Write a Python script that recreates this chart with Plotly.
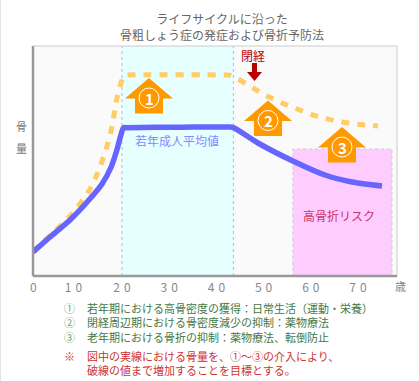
import plotly.graph_objects as go

W, H = 419, 381
L, R, T, B = 33, 397, 46, 276
FONT = "Noto Sans CJK JP"

# Data: age and bone mass (0-100 scale)
solid_age = [1.15, 4.75, 8.98, 12.8, 15.76, 17.7, 18.94, 19.79, 20.3, 21.0, 32.7, 42.6, 43.5, 48.8, 56.65, 63.0, 68.73, 75.08]
solid_mass = [10.43, 16.96, 24.35, 32.6, 40.0, 47.4, 55.0, 61.5, 64.4, 64.5, 64.7, 64.8, 64.6, 57.83, 49.57, 43.91, 40.87, 39.13]
dash_age = [1.15, 3.69, 6.44, 8.98, 11.1, 13.0, 14.49, 15.76, 16.82, 17.67, 18.31, 18.94, 19.79, 20.42, 21.2, 41.8, 43.0,
            44.58, 47.75, 50.72, 53.9, 57.08, 60.04, 63.22, 66.61, 70.0, 74.24]
dash_mass = [10.43, 15.65, 20.87, 26.0, 31.4, 37.0, 43.2, 49.8, 56.5, 63.0, 70.0, 77.39, 84.0, 87.2, 87.39, 87.39, 87.3,
             85.65, 81.74, 78.26, 75.22, 72.61, 70.3, 68.4, 66.96, 66.0, 65.22]
x_ticks = [1.2, 9.7, 20, 30, 40, 50, 60, 70]
x_labels = ["0", "1\u20040", "2\u20040", "3\u20040", "4\u20040", "5\u20040", "6\u20040", "7\u20040"]
young_span = [20, 43.6]
risk_span = [56.2, 77.2]
risk_top = 55.2
title_lines = ["ライフサイクルに沿った", "骨粗しょう症の発症および骨折予防法"]
green_marks = ["①", "②", "③"]
green_notes = ["若年期における高骨密度の獲得：日常生活（運動・栄養）",
               "閉経周辺期における骨密度減少の抑制：薬物療法",
               "老年期における骨折の抑制：薬物療法、転倒防止"]
red_notes = ["図中の実線における骨量を、①～③の介入により、",
             "破線の値まで増加することを目標とする。"]
arrows = [(149, 78, "1"), (268, 100.5, "2"), (342, 127, "3")]

X0, X1 = 20 - (122 - L) / 4.72, 20 + (R - 122) / 4.72
def fx(p): return (p - L) / (R - L)
def fy(p): return (B - p) / (B - T)

fig = go.Figure()
fig.add_trace(go.Scatter(x=dash_age, y=dash_mass, mode="lines", showlegend=False,
                         line=dict(color="#FFCC66", width=5, dash="8px,8px", shape="spline", smoothing=0.7)))
fig.add_trace(go.Scatter(x=solid_age, y=solid_mass, mode="lines", showlegend=False,
                         line=dict(color="#6666FF", width=5.5, shape="spline", smoothing=0.7)))

shapes = [
    dict(type="rect", xref="x", yref="paper", x0=young_span[0], x1=young_span[1], y0=0, y1=1,
         fillcolor="#E6FFFF", line_width=0, layer="below"),
    dict(type="rect", xref="x", yref="y", x0=risk_span[0], x1=risk_span[1], y0=0, y1=risk_top,
         fillcolor="#FFCCFF", line=dict(color="#CCCCCC", width=1, dash="3px,3px"), layer="below"),
]
for v in young_span:
    shapes.append(dict(type="line", xref="x", yref="paper", x0=v, x1=v, y0=0, y1=1, layer="below",
                       line=dict(color="#BBBBBB", width=1, dash="3px,3px")))
# frame
shapes += [
    dict(type="line", xref="paper", yref="paper", x0=0, x1=1, y0=1, y1=1, line=dict(color="#CCCCCC", width=1)),
    dict(type="line", xref="paper", yref="paper", x0=1, x1=1, y0=0, y1=1, line=dict(color="#CCCCCC", width=1)),
    dict(type="line", xref="paper", yref="paper", x0=0, x1=0, y0=0, y1=1, line=dict(color="#999999", width=2.5)),
    dict(type="line", xref="paper", yref="paper", x0=0, x1=1, y0=0, y1=0, line=dict(color="#999999", width=2.5)),
    dict(type="line", xref="paper", yref="paper", x0=fx(0.5), x1=fx(0.5), y0=fy(H), y1=fy(0),
         line=dict(color="#E4E4E4", width=1)),
]

def poly(pts, color):
    d = "M" + " L".join(f"{fx(a):.4f},{fy(b):.4f}" for a, b in pts) + " Z"
    return dict(type="path", xref="paper", yref="paper", path=d, fillcolor=color, line_width=0)

annotations = []
def text(x, y, s, size=11, color="#666666", anchor="center", align="center"):
    annotations.append(dict(xref="paper", yref="paper", x=fx(x), y=fy(y), text=s, showarrow=False,
                            xanchor=anchor, yanchor="middle", align=align,
                            font=dict(family=FONT, size=size, color=color)))

for cx, tip, n in arrows:
    shapes.append(poly([(cx, tip), (cx + 24, tip + 20.5), (cx + 14, tip + 20.5), (cx + 14, tip + 35.5),
                        (cx - 14, tip + 35.5), (cx - 14, tip + 20.5), (cx - 24, tip + 20.5)], "#FF9900"))
    cy = tip + 20
    shapes.append(dict(type="circle", xref="paper", yref="paper", x0=fx(cx - 10), x1=fx(cx + 10),
                       y0=fy(cy + 10), y1=fy(cy - 10), line=dict(color="#FFFFFF", width=1)))
    text(cx, cy, f"<b>{n}</b>", size=15, color="#FFFFFF")

# menopause arrow
shapes.append(poly([(252, 63), (257, 63), (257, 72), (262, 72), (254.5, 81), (247, 72), (252, 72)], "#BB0000"))
text(253, 56, "閉経", size=12, color="#BB0000")
text(177, 140, "若年成人平均値", size=12, color="#8888FF")
text(339, 215, "高骨折リスク", size=12, color="#CC3366")
text(21, 126, "骨", size=11, color="#777777")
text(21, 148, "量", size=11, color="#777777")
text(400, 286, "歳", size=11, color="#888888")
text(222, 26.5, "<br>".join(title_lines), size=12, color="#666666")
text(62, 322, "<br>".join(green_marks), size=11, color="#66AA66", anchor="left", align="left")
text(84.5, 322, "<br>".join(green_notes), size=11, color="#447744", anchor="left", align="left")
text(62, 356, "※", size=11, color="#CC3333", anchor="left", align="left")
text(84.5, 363, "<br>".join(red_notes), size=11, color="#CC3333", anchor="left", align="left")

fig.update_layout(
    width=W, height=H, autosize=False,
    margin=dict(l=L, r=W - R, t=T, b=H - B, pad=0),
    paper_bgcolor="#FFFFFF", plot_bgcolor="#FAFAFA",
    shapes=shapes, annotations=annotations, showlegend=False,
    xaxis=dict(range=[X0, X1], tickvals=x_ticks, ticktext=x_labels, showgrid=False, zeroline=False,
               showline=False, ticks="", ticklabelstandoff=3,
               tickfont=dict(family=FONT, size=12, color="#888888"), tickangle=0),
    yaxis=dict(range=[0, 100], showgrid=False, zeroline=False, showline=False, showticklabels=False, ticks=""),
)
fig.write_html("out.html", config={"displayModeBar": False},
               post_script="document.body.style.margin='0';document.body.style.overflow='hidden';")
